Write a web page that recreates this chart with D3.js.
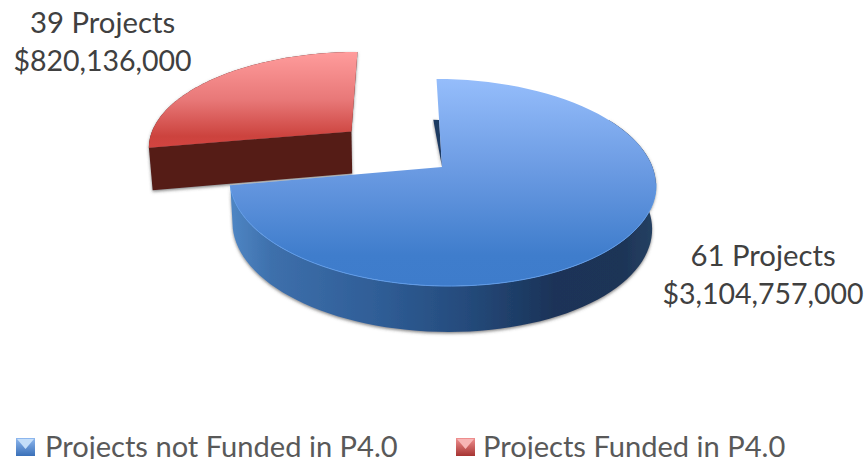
<!DOCTYPE html>
<html><head><meta charset="utf-8">
<script src="https://cdn.jsdelivr.net/npm/d3@7/dist/d3.min.js"></script>
<style>html,body{margin:0;padding:0;background:#fff;overflow:hidden}svg{display:block}text{font-family:Lato,"Open Sans",sans-serif}</style>
</head><body><svg id="c" width="868" height="459"></svg>
<script>
const categories = ["Projects not Funded in P4.0", "Projects Funded in P4.0"];
const projectCounts = [61, 39];
const dollarValues = [3104757000, 820136000];
const drawnShares = [72.2, 27.8];

const svg = d3.select("#c");
const defs = svg.append("defs");
function grad(id, x2, y2, stops){
  const g = defs.append("linearGradient").attr("id", id).attr("x1",0).attr("y1",0).attr("x2",x2).attr("y2",y2);
  stops.forEach(s => g.append("stop").attr("offset", s[0]).attr("stop-color", s[1]));
}
grad("blueTop",0,1,[[0,"#95bdfb"],[.45,"#6a9ae2"],[.85,"#3f7dcc"],[1,"#3e7ccb"]]);
grad("redTop",0,1,[[0,"#ff9c9c"],[.5,"#e87878"],[.88,"#cc433e"],[1,"#d24440"]]);
grad("blueWall",1,0,[[0,"#4f86c4"],[.1,"#3d6fab"],[.35,"#2f5d96"],[.55,"#254b7c"],[.76,"#1a3358"],[.92,"#1d3457"],[1,"#264263"]]);
grad("swBlue",0,1,[[0,"#8fb8ef"],[1,"#3a70b8"]]);
grad("swRed",0,1,[[0,"#f09090"],[1,"#a63432"]]);
const f = defs.append("filter").attr("id","sh").attr("x","-5%").attr("y","-5%").attr("width","110%").attr("height","115%");
f.append("feDropShadow").attr("dx",0).attr("dy",1.5).attr("stdDeviation",1.6).attr("flood-color","#444").attr("flood-opacity",.65);

// perspective projection of the pie plane to the screen
const vx = 400, cx = 442, cy = 167, R = 210.5, ry = 101.2, k = 0.15, depth = 43, explode = 0.578, taper = 0.985;
function P(X, Y, z){
  const s = 1/(1 + k*Y);
  const wx = (cx - vx) + R*X;
  return [vx + wx*s*(z ? taper : 1), cy - ry*Y*s + z*depth*Math.pow(s,0.4)];
}
const pie = d3.pie().sort(null)(drawnShares);
const line = d3.line();
const ring = (a0,a1,ox,oy,z) => d3.range(0,81).map(i => { const t = a0 + (a1-a0)*i/80;
  return P(Math.sin(t)+ox, Math.cos(t)+oy, z); });

// red (exploded) slice
const red = pie[1], mid = (red.startAngle+red.endAngle)/2;
const ox = Math.sin(mid)*explode, oy = Math.cos(mid)*explode;
const gRed = svg.append("g");
gRed.append("path").attr("filter","url(#sh)").attr("fill","#551a18")
  .attr("d", line([P(ox,oy,0),...ring(red.startAngle,red.endAngle,ox,oy,0)])+"Z");
gRed.append("path").attr("filter","url(#sh)").attr("fill","#551a18")
  .attr("d", line([P(ox,oy,0),P(Math.sin(red.startAngle)+ox,Math.cos(red.startAngle)+oy,0),
                   P(Math.sin(red.startAngle)+ox,Math.cos(red.startAngle)+oy,1),P(ox,oy,1)])+"Z");
gRed.append("path").attr("fill","url(#redTop)")
  .attr("d", line([P(ox,oy,0),...ring(red.startAngle,red.endAngle,ox,oy,0)])+"Z");

// blue slice
const blue = pie[0];
const gBlue = svg.append("g");
const front0 = Math.PI/3;
gBlue.append("path").attr("fill","url(#blueWall)").attr("filter","url(#sh)")
  .attr("d", line([...ring(front0,blue.endAngle,0,0,0),...ring(blue.endAngle,front0,0,0,1)])+"Z");
gBlue.append("path").attr("fill","#1f3a62").attr("filter","url(#sh)")
  .attr("d", line([P(0,0,0),P(0,0.5,0),P(-0.015,1,1)])+"Z");
gBlue.append("path").attr("fill","url(#blueTop)")
  .attr("d", line([P(0,0,0),...ring(blue.startAngle,blue.endAngle,0,0,0)])+"Z");
gBlue.append("path").attr("fill","none").attr("stroke","#5f9be8").attr("stroke-width",1)
  .attr("d", line(ring(Math.PI*0.55,blue.endAngle,0,0,0)));

// data labels
const money = d3.format("$,");
const lab = svg.append("g").attr("fill","#404040").attr("text-anchor","middle");
[[102.5,33,71,1],[763,266,304,0]].forEach(([x,y1,y2,i]) => {
  lab.append("text").attr("x",x).attr("y",y1).attr("font-size",29.3).text(projectCounts[i]+" Projects");
  lab.append("text").attr("x",x).attr("y",y2).attr("font-size",28.5).text(money(dollarValues[i]));
});

// legend
const lg = svg.append("g");
[[16,45,"swBlue","#c4def9"],[456,483,"swRed","#f7b5b5"]].forEach(([x,tx,g,c],i) => {
  lg.append("rect").attr("x",x).attr("y",438).attr("width",19).attr("height",18).attr("fill",`url(#${g})`);
  lg.append("path").attr("d",line([[x+1,439],[x+18,439],[x+9.5,449]])+"Z").attr("fill",c);
  lg.append("text").attr("x",tx).attr("y",456.5).attr("font-size",29.1).attr("fill","#595959").text(categories[i]);
});
</script></body></html>
